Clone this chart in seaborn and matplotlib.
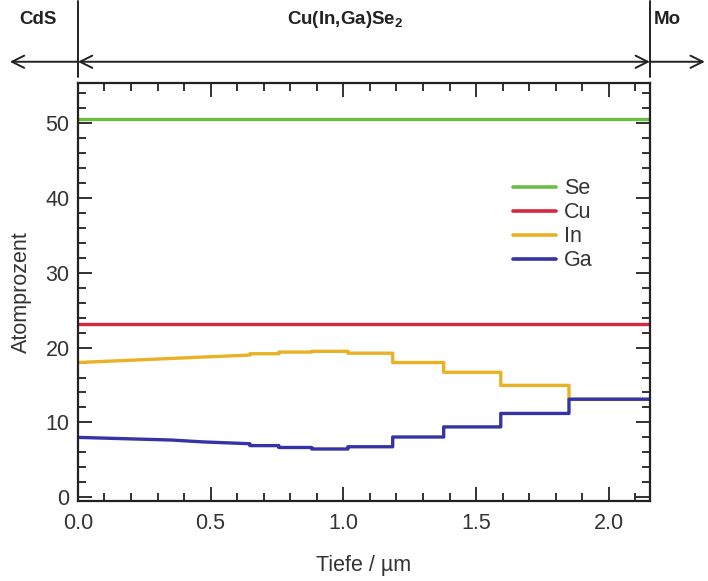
import matplotlib
matplotlib.use("Agg")
import matplotlib.pyplot as plt
import seaborn as sns
import pandas as pd
from matplotlib.ticker import MultipleLocator

# ---- data ----
elements = ["Se", "Cu", "In", "Ga"]
colors = ["#6cbd45", "#d7263d", "#e9b124", "#3434a6"]

se_depth = [0.0, 2.155]
se_val = [50.5, 50.5]

cu_depth = [0.0, 2.155]
cu_val = [23.1, 23.1]

in_depth = [0.0, 0.48, 0.648, 0.648, 0.757, 0.757, 0.881, 0.881, 1.017, 1.017,
            1.186, 1.186, 1.378, 1.378, 1.593, 1.593, 1.85, 1.85, 2.155]
in_val = [18.0, 18.75, 19.0, 19.18, 19.18, 19.4, 19.4, 19.5, 19.5, 19.25,
          19.25, 18.0, 18.0, 16.7, 16.7, 14.95, 14.95, 13.1, 13.1]

ga_depth = [0.0, 0.35, 0.47, 0.648, 0.648, 0.757, 0.757, 0.881, 0.881, 1.017,
            1.017, 1.186, 1.186, 1.378, 1.378, 1.593, 1.593, 1.85, 1.85, 2.155]
ga_val = [8.0, 7.65, 7.4, 7.15, 6.9, 6.9, 6.65, 6.65, 6.45, 6.45,
          6.75, 6.75, 8.05, 8.05, 9.4, 9.4, 11.2, 11.2, 13.1, 13.1]

x_ticks = [0.0, 0.5, 1.0, 1.5, 2.0]
y_ticks = [0, 10, 20, 30, 40, 50]
region_labels = ["CdS", r"Cu(In,Ga)Se$_{\mathbf{2}}$", "Mo"]

# ---- build long table ----
frames = []
for name, d, v in zip(elements, [se_depth, cu_depth, in_depth, ga_depth],
                      [se_val, cu_val, in_val, ga_val]):
    frames.append(pd.DataFrame({"Element": name, "Tiefe": d, "Wert": v,
                                "idx": range(len(d))}))
df = pd.concat(frames, ignore_index=True)

sns.set_style("ticks")
plt.rcParams["font.family"] = ["Liberation Sans", "DejaVu Sans"]
plt.rcParams["mathtext.fontset"] = "custom"
plt.rcParams["mathtext.rm"] = "Liberation Sans"
plt.rcParams["mathtext.bf"] = "Liberation Sans:bold"
plt.rcParams["mathtext.it"] = "Liberation Sans:italic"

fig = plt.figure(figsize=(7.08, 5.81), dpi=100)
ax = fig.add_axes([0.110, 0.1377, 0.808, 0.720])

sns.lineplot(data=df, x="Tiefe", y="Wert", hue="Element", hue_order=elements,
             palette=colors, sort=False, estimator=None, units="Element",
             linewidth=2.4, ax=ax, legend=True)

ax.set_xlim(0, 2.155)
ax.set_ylim(-0.5, 55.4)
ax.set_xticks(x_ticks)
ax.set_xticklabels([f"{t:.1f}" for t in x_ticks])
ax.set_yticks(y_ticks)
ax.xaxis.set_minor_locator(MultipleLocator(0.1))
ax.yaxis.set_minor_locator(MultipleLocator(2))
ax.tick_params(which="both", direction="in", top=True, right=True,
               colors="#222222", width=1.3, labelsize=15.5, labelcolor="#333333")
ax.tick_params(which="major", length=10)
ax.tick_params(which="minor", length=5.5)
ax.tick_params(axis="x", which="major", pad=9)
ax.tick_params(axis="y", which="major", pad=6)
for s in ax.spines.values():
    s.set_linewidth(1.6)
    s.set_color("#222222")

ax.set_xlabel("Tiefe / µm", fontsize=15.5, color="#333333", labelpad=15)
ax.set_ylabel("Atomprozent", fontsize=15.5, color="#333333", labelpad=10)

leg = ax.legend(loc="upper left", bbox_to_anchor=(0.735, 0.808), frameon=False,
                fontsize=15.5, handlelength=2.0, handletextpad=0.35,
                labelspacing=0.14, borderpad=0.2)
for h in leg.get_lines():
    h.set_linewidth(2.6)
for t in leg.get_texts():
    t.set_color("#333333")

# ---- region annotations above the axes ----
tr = ax.transAxes
ky = 1.050
kw = dict(arrowstyle="->", color="#222222", lw=1.4, mutation_scale=22,
          shrinkA=0, shrinkB=0)
ax.annotate("", xy=(-0.119, ky), xytext=(0.0, ky), xycoords=tr, textcoords=tr,
            arrowprops=kw, annotation_clip=False)
ax.annotate("", xy=(1.096, ky), xytext=(1.0, ky), xycoords=tr, textcoords=tr,
            arrowprops=kw, annotation_clip=False)
ax.annotate("", xy=(0.0, ky), xytext=(1.0, ky), xycoords=tr, textcoords=tr,
            arrowprops=dict(kw, arrowstyle="<->"), annotation_clip=False)
for xv in (0.0, 1.0):
    ax.plot([xv, xv], [1.014, 1.195], transform=tr, color="#222222", lw=1.4,
            clip_on=False)
for xv, lab in zip([-0.070, 0.467, 1.031], region_labels):
    ax.text(xv, 1.152, lab, transform=tr, ha="center", va="center",
            fontsize=13.5, fontweight="bold", color="#222222")

fig.savefig("out.png", dpi=100)
